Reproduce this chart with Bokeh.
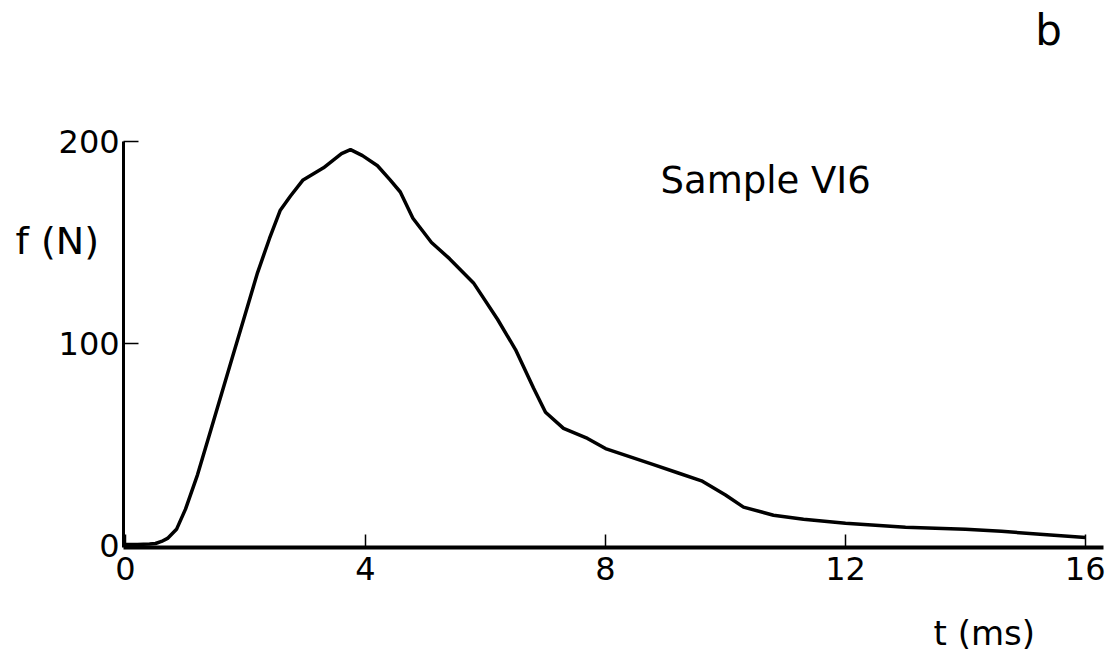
from bokeh.plotting import figure
from bokeh.models import Range1d, FixedTicker, Label, LinearAxis
from bokeh.embed import file_html
from bokeh.resources import INLINE

# data (time in ms, force in N)
t_ms = [0.0, 0.2, 0.4, 0.5, 0.6, 0.7, 0.85, 1.0, 1.2, 1.4, 1.6, 1.8, 2.0, 2.2, 2.4,
        2.58, 2.75, 2.96, 3.3, 3.6, 3.75, 3.95, 4.2, 4.41, 4.58, 4.79, 5.1, 5.4,
        5.8, 6.2, 6.5, 6.8, 7.0, 7.3, 7.7, 8.0, 8.4, 8.8, 9.2, 9.6, 10.0, 10.3,
        10.8, 11.3, 12.0, 13.0, 14.0, 14.6, 15.3, 16.0]
f_N = [0.5, 0.5, 0.8, 1.0, 2.0, 3.5, 8, 18, 35, 55, 75, 95, 115, 135, 152,
       166, 173, 181, 187, 194, 196, 193, 188, 181, 175, 162, 150, 142,
       130, 112, 97, 78, 66, 58, 53, 48, 44, 40, 36, 32, 25, 19,
       15, 13, 11, 9, 8, 7, 5.5, 4]

x_ticks = [0, 4, 8, 12, 16]
y_ticks = [0, 100, 200]

FONT = "DejaVu Sans"
W, H = 1105, 657
PX_X = 60.0   # pixels per ms
PX_Y = 2.02   # pixels per N
X0, Y0 = 125, 112  # canvas position of the origin (from left, from bottom)

x_start = -X0 / PX_X
y_start = -Y0 / PX_Y
p = figure(width=W, height=H, output_backend="svg", toolbar_location=None,
           x_range=Range1d(x_start, x_start + W / PX_X),
           y_range=Range1d(y_start, y_start + H / PX_Y),
           x_axis_location=None, y_axis_location=None)
p.min_border = 0
p.outline_line_color = None
p.grid.visible = False
p.background_fill_color = "white"
p.border_fill_color = "white"

p.line(t_ms, f_N, line_color="black", line_width=3.5)

xa = LinearAxis(fixed_location=-1.0, bounds=(-0.03, 16.3))
ya = LinearAxis(fixed_location=-0.03, bounds=(-1.0, 200))
p.add_layout(xa, "below")
p.add_layout(ya, "left")

xa.ticker = FixedTicker(ticks=x_ticks)
ya.ticker = FixedTicker(ticks=y_ticks)
for ax in (xa, ya):
    ax.axis_line_color = "black"
    ax.major_tick_out = 0
    ax.minor_tick_in = 0
    ax.minor_tick_out = 0
    ax.major_tick_line_width = 1.5
    ax.major_label_text_font = FONT
    ax.major_label_text_font_size = "32px"
    ax.major_label_text_color = "black"
xa.axis_line_width = 4
ya.axis_line_width = 3
xa.major_tick_in = 13
ya.major_tick_in = 15
xa.major_label_standoff = 9
ya.major_label_standoff = 4

p.add_layout(Label(x=15, y=417, x_units="screen", y_units="screen", text="f (N)",
                   text_font=FONT, text_font_size="38px", text_baseline="middle",
                   text_color="black"))
p.add_layout(Label(x=660, y=477, x_units="screen", y_units="screen", text="Sample VI6",
                   text_font=FONT, text_font_size="37px", text_baseline="middle",
                   text_color="black"))
p.add_layout(Label(x=933, y=25, x_units="screen", y_units="screen", text="t (ms)",
                   text_font=FONT, text_font_size="34px", text_baseline="middle",
                   text_color="black"))
p.add_layout(Label(x=1048, y=627, x_units="screen", y_units="screen", text="b",
                   text_font=FONT, text_font_size="42px", text_baseline="middle",
                   text_align="center", text_color="black"))

open("out.html", "w").write(file_html(p, INLINE))
